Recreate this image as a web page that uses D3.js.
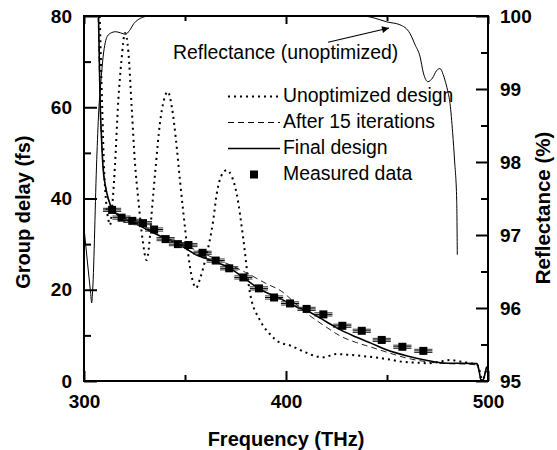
<!DOCTYPE html>
<html>
<head>
<meta charset="utf-8">
<script src="https://cdn.jsdelivr.net/npm/d3@7"></script>
<style>
  body { margin: 0; background: #fff; }
  text { font-family: "Liberation Sans", Arial, Helvetica, sans-serif; }
</style>
</head>
<body>
<div class="canvas"></div>
<script>
// measured group delay (fs) vs frequency (THz)
var measF  = [313.9, 318.6, 323.9, 329.2, 334.7, 340.4, 346.5, 351.7, 358.7, 365.2, 371.9, 378.9, 386.6, 394.1, 402.0, 410.2, 418.5, 427.9, 437.5, 447.4, 457.6, 468.0];
var measGD = [37.5, 35.8, 35.1, 34.6, 33.2, 31.1, 30.0, 29.8, 28.1, 26.4, 24.7, 22.7, 20.3, 18.3, 17.0, 15.8, 14.6, 12.1, 11.0, 9.0, 7.5, 6.6];
var measErr = 4.5;   // THz, horizontal error

// unoptimized design (dotted)
var unoptF  = [307.8, 309, 310, 311, 312, 312.9, 314, 315.3, 317, 318.5, 320.3, 322, 323.6, 325.2, 326.9, 329, 331, 332.3, 333.5, 335.5, 337.6, 339.5, 341.5, 343.5, 345.5, 347.5, 349.2, 351.5, 353.5, 355.5, 357.5, 360, 364, 365.7, 368, 370.6, 373, 375.6, 378.9, 382.2, 387, 392, 396.2, 402, 408, 415, 418.5, 425, 432, 441.6, 450, 458, 465, 471, 476, 481, 486, 491, 494.5, 496, 497, 498, 499, 500];
var unoptGD = [80, 60, 46, 39, 35.5, 34.2, 38.5, 47, 61.6, 70, 76.3, 72, 60, 48, 39.7, 31, 26.5, 30, 36.8, 47, 56.5, 61.5, 63.4, 60, 53, 44, 36.8, 28, 22.5, 20.4, 22.5, 26.5, 35.3, 41, 45, 46.2, 45, 41, 31, 19.2, 13.4, 10.3, 8.6, 7.8, 6.6, 5.4, 5.2, 5.9, 5.7, 5.3, 4.8, 4.2, 4.0, 3.9, 4.2, 4.6, 4.3, 3.9, 3.6, 2.0, 0.3, 0.8, 2.2, 3.0];

// after 15 iterations (dashed)
var iterF  = [307, 307.5, 308, 308.8, 309.6, 311, 313, 318, 325, 332, 340, 348, 356, 364, 372, 380, 390, 398, 404, 410, 413.4, 420, 426.7, 435, 441.6, 450, 460, 470, 480, 490, 494.5, 495.5, 496.5, 497.5, 498.5, 499.3, 500];
var iterGD = [80, 70, 60, 52, 46, 42, 38.5, 36.3, 34.8, 33.4, 31.6, 30, 28.6, 27, 25.5, 23.8, 21.4, 19.6, 17.3, 14.9, 13.8, 11.8, 9.9, 8.4, 7.5, 6.3, 5.0, 4.2, 3.8, 3.7, 3.5, 2.2, 0.2, 0.3, 1.8, 2.9, 3.1];

// final design (solid)
var finalF  = [307.2, 307.6, 308, 308.7, 309.4, 310.5, 312, 314, 318, 325, 332, 340, 347.5, 355, 364, 372, 380, 388, 396, 404, 413, 420, 427, 435, 442, 450, 460, 470, 475, 480, 487, 494.5, 495.5, 496.5, 497.5, 498.5, 499.3, 500];
var finalGD = [80, 70, 61, 53, 47, 43, 40, 37.6, 36, 34.6, 33, 31.3, 29.8, 27.8, 26.3, 24.8, 22.3, 19.9, 18.3, 16.5, 14.8, 13, 11.2, 9.6, 8.3, 6.8, 5.5, 4.5, 4.1, 3.9, 3.9, 3.8, 2.5, 0.3, 0.2, 1.5, 3, 3.2];

// reflectance of unoptimized design (%), right axis
var reflF = [300, 303.3, 303.8, 304.3, 306.3, 307.3, 308.3, 309.5, 311.5, 313.5, 315.6, 318, 320.6, 322.5, 324.8, 326.8, 328.9, 332, 438, 444, 449.8, 456.4, 461.4, 464, 466.3, 468, 470.3, 472.5, 474.5, 476.2, 477.8, 478.7, 480, 481.2, 482.5, 483.5, 484.5, 484.8];
var reflR = [97.1, 96.2, 96.07, 96.25, 98.03, 98.7, 99.08, 99.45, 99.72, 99.77, 99.785, 99.77, 99.75, 99.8, 99.9, 99.95, 99.98, 100, 100, 99.97, 99.92, 99.88, 99.76, 99.6, 99.45, 99.22, 99.1, 99.15, 99.25, 99.28, 99.2, 99.12, 98.98, 98.8, 98.4, 98.0, 97.48, 96.73];

var xTicks = [300, 350, 400, 450, 500];
var xLabels = [300, 400, 500];
var yTicks = [0, 10, 20, 30, 40, 50, 60, 70, 80];
var yLabels = [0, 20, 40, 60, 80];
var rTicks = [95, 95.5, 96, 96.5, 97, 97.5, 98, 98.5, 99, 99.5, 100];
var rLabels = [95, 96, 97, 98, 99, 100];

var legendNames = ["Unoptimized design", "After 15 iterations", "Final design", "Measured data"];

var svgWidth = 557, svgHeight = 450;
var margin = {top: 16, right: 69, bottom: 69, left: 84};
var plotW = svgWidth - margin.left - margin.right;
var plotH = svgHeight - margin.top - margin.bottom;

const svg = d3.select(".canvas").append("svg")
    .attr("width", svgWidth)
    .attr("height", svgHeight);

var x = d3.scaleLinear().domain([300, 500]).range([margin.left, margin.left + plotW]);
var y = d3.scaleLinear().domain([0, 80]).range([margin.top + plotH, margin.top]);
var yR = d3.scaleLinear().domain([95, 100]).range([margin.top + plotH, margin.top]);

svg.append("clipPath").attr("id", "clip")
    .append("rect")
    .attr("x", margin.left).attr("y", margin.top)
    .attr("width", plotW).attr("height", plotH);

var plot = svg.append("g").attr("clip-path", "url(#clip)");

function zip(a, b) { return a.map(function(d, i) { return [d, b[i]]; }); }

var lineGD = d3.line()
    .x(function(d) { return x(d[0]); })
    .y(function(d) { return y(d[1]); })
    .curve(d3.curveMonotoneX);

var lineR = d3.line()
    .x(function(d) { return x(d[0]); })
    .y(function(d) { return yR(d[1]); })
    .curve(d3.curveMonotoneX);

// reflectance (thin)
plot.append("path")
    .datum(zip(reflF, reflR))
    .attr("d", lineR)
    .attr("fill", "none")
    .attr("stroke", "#000")
    .attr("stroke-width", 1);

// unoptimized (dotted)
plot.append("path")
    .datum(zip(unoptF, unoptGD))
    .attr("d", lineGD)
    .attr("fill", "none")
    .attr("stroke", "#000")
    .attr("stroke-width", 2)
    .attr("stroke-dasharray", "2,4");

// after 15 iterations (dashed)
plot.append("path")
    .datum(zip(iterF, iterGD))
    .attr("d", lineGD)
    .attr("fill", "none")
    .attr("stroke", "#222")
    .attr("stroke-width", 1)
    .attr("stroke-dasharray", "6,4");

// final design (solid)
plot.append("path")
    .datum(zip(finalF, finalGD))
    .attr("d", lineGD)
    .attr("fill", "none")
    .attr("stroke", "#000")
    .attr("stroke-width", 1.6);

// measured data with horizontal error bars
var meas = plot.selectAll("g.meas")
    .data(zip(measF, measGD))
    .enter().append("g")
    .attr("class", "meas");

[-1.6, 1.6].forEach(function(off) {
  meas.append("line")
      .attr("x1", function(d) { return x(d[0] - measErr); })
      .attr("x2", function(d) { return x(d[0] + measErr); })
      .attr("y1", function(d) { return y(d[1]) + off; })
      .attr("y2", function(d) { return y(d[1]) + off; })
      .attr("stroke", "#333")
      .attr("stroke-width", 1);
});
meas.append("line")
    .attr("x1", function(d) { return x(d[0] - measErr); })
    .attr("x2", function(d) { return x(d[0] + measErr); })
    .attr("y1", function(d) { return y(d[1]); })
    .attr("y2", function(d) { return y(d[1]); })
    .attr("stroke", "#000")
    .attr("stroke-width", 1);
meas.append("rect")
    .attr("x", function(d) { return x(d[0]) - 4; })
    .attr("y", function(d) { return y(d[1]) - 4; })
    .attr("width", 8)
    .attr("height", 8)
    .attr("fill", "#000");

// axes: ticks pointing inward
function styleAxis(g, fs) {
  g.select(".domain").remove();
  g.selectAll(".tick line").attr("stroke", "#000").attr("stroke-width", 2);
  g.selectAll(".tick text")
      .attr("fill", "#000")
      .style("font-family", "'Liberation Sans', Arial, sans-serif")
      .style("font-weight", "bold")
      .style("font-size", fs + "px");
}

var bottomY = margin.top + plotH;
svg.append("g").attr("transform", "translate(0," + bottomY + ")")
    .call(d3.axisBottom(x).tickValues(xTicks.filter(function(t) { return xLabels.indexOf(t) < 0; }))
        .tickSize(-6).tickFormat(""))
    .call(styleAxis, 19);
svg.append("g").attr("transform", "translate(0," + bottomY + ")")
    .call(d3.axisBottom(x).tickValues(xLabels).tickSize(-10).tickPadding(14).tickFormat(d3.format("d")))
    .call(styleAxis, 19);

svg.append("g").attr("transform", "translate(0," + margin.top + ")")
    .call(d3.axisTop(x).tickValues(xTicks.filter(function(t) { return xLabels.indexOf(t) < 0; }))
        .tickSize(-5).tickFormat(""))
    .call(styleAxis, 19);
svg.append("g").attr("transform", "translate(0," + margin.top + ")")
    .call(d3.axisTop(x).tickValues(xLabels).tickSize(-8).tickFormat(""))
    .call(styleAxis, 19);

svg.append("g").attr("transform", "translate(" + margin.left + ",0)")
    .call(d3.axisLeft(y).tickValues(yTicks.filter(function(t) { return yLabels.indexOf(t) < 0; }))
        .tickSize(-7).tickFormat(""))
    .call(styleAxis, 19);
svg.append("g").attr("transform", "translate(" + margin.left + ",0)")
    .call(d3.axisLeft(y).tickValues(yLabels).tickSize(-13).tickPadding(12).tickFormat(d3.format("d")))
    .call(styleAxis, 19);

var rightX = margin.left + plotW;
svg.append("g").attr("transform", "translate(" + rightX + ",0)")
    .call(d3.axisRight(yR).tickValues(rTicks.filter(function(t) { return rLabels.indexOf(t) < 0; }))
        .tickSize(-7).tickFormat(""))
    .call(styleAxis, 19);
svg.append("g").attr("transform", "translate(" + rightX + ",0)")
    .call(d3.axisRight(yR).tickValues(rLabels).tickSize(-12).tickPadding(12).tickFormat(d3.format("d")))
    .call(styleAxis, 19);

// frame
svg.append("rect")
    .attr("x", margin.left).attr("y", margin.top)
    .attr("width", plotW).attr("height", plotH)
    .attr("fill", "none")
    .attr("stroke", "#000")
    .attr("stroke-width", 2);

// axis titles
svg.append("text")
    .text("Frequency (THz)")
    .attr("x", x(400)).attr("y", 446)
    .attr("text-anchor", "middle")
    .attr("font-weight", "bold").attr("font-size", 20);

svg.append("text")
    .text("Group delay (fs)")
    .attr("transform", "translate(30," + y(37) + ") rotate(-90)")
    .attr("text-anchor", "middle")
    .attr("font-weight", "bold").attr("font-size", 20);

svg.append("text")
    .text("Reflectance (%)")
    .attr("transform", "translate(550," + yR(97.37) + ") rotate(-90)")
    .attr("text-anchor", "middle")
    .attr("font-weight", "bold").attr("font-size", 20.5);

// annotation
svg.append("text")
    .text("Reflectance (unoptimized)")
    .attr("x", 173).attr("y", 59)
    .attr("font-size", 19.4);

svg.append("defs").append("marker")
    .attr("id", "arrow")
    .attr("viewBox", "0 0 10 10")
    .attr("refX", 10).attr("refY", 5)
    .attr("markerWidth", 11).attr("markerHeight", 7)
    .attr("markerUnits", "userSpaceOnUse")
    .attr("orient", "auto")
    .append("path")
    .attr("d", "M0,0 L10,5 L0,10 z")
    .attr("fill", "#000");

svg.append("line")
    .attr("x1", x(420.8)).attr("y1", yR(99.64))
    .attr("x2", x(451)).attr("y2", yR(99.836))
    .attr("stroke", "#000").attr("stroke-width", 1.2)
    .attr("marker-end", "url(#arrow)");

// legend
var legX0 = 228, legX1 = 280, legTextX = 283, legY0 = 102, legStep = 26;
var legend = svg.selectAll("g.legend")
    .data(legendNames)
    .enter().append("g")
    .attr("class", "legend")
    .attr("transform", function(d, i) { return "translate(0," + (legY0 + i * legStep) + ")"; });

legend.append("text")
    .text(function(d) { return d; })
    .attr("x", legTextX).attr("y", 0)
    .attr("font-size", 19.4);

legend.filter(function(d, i) { return i < 3; })
    .append("line")
    .attr("x1", legX0).attr("x2", legX1)
    .attr("y1", -5.5).attr("y2", -5.5)
    .attr("stroke", "#000")
    .attr("stroke-width", function(d, i) { return [2, 1, 1.6][i]; })
    .attr("stroke-dasharray", function(d, i) { return ["2,4", "6,4", null][i]; });

legend.filter(function(d, i) { return i === 3; })
    .append("rect")
    .attr("x", (legX0 + legX1) / 2 - 4).attr("y", -5.5 - 4)
    .attr("width", 8).attr("height", 8)
    .attr("fill", "#000");
</script>
</body>
</html>
